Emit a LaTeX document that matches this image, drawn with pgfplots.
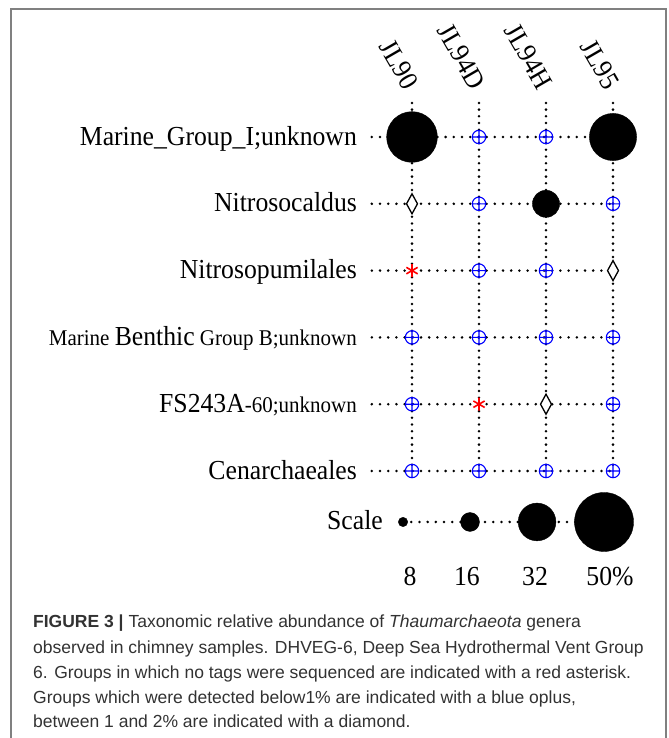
\documentclass[border=0pt]{standalone}
\usepackage{fontspec}
\setmainfont{Liberation Serif}
\newfontfamily\capfont{Liberation Sans}
\usepackage{graphicx}
\usepackage{pgfplots}
\usepackage{pgfplotstable}
\pgfplotsset{compat=1.18}

\definecolor{framegray}{RGB}{128,128,128}
\definecolor{captxt}{RGB}{50,50,50}
\definecolor{oplusblue}{RGB}{0,0,255}
\definecolor{astred}{RGB}{255,0,0}

\newcommand{\lgf}{\fontsize{25.7}{30}\selectfont}
\newcommand{\smf}{\fontsize{21}{25}\selectfont}
\newcommand{\vs}[1]{\scalebox{1}[1.07]{#1}}

% abundance bubbles: x = sample index, y = group index, v = percent
\pgfplotstableread{
x y v
0 0 43
3 0 40
2 1 23
}\bubbles
\pgfplotstableread{
x y v
-0.134 5.763 8
0.866 5.763 16
1.866 5.763 32
2.866 5.763 50
}\scalebubbles
\pgfplotstableread{
x y
1 0
2 0
1 1
3 1
1 2
2 2
0 3
1 3
2 3
3 3
0 4
3 4
0 5
1 5
2 5
3 5
}\oplusdata
\pgfplotstableread{
x y
0 1
3 2
2 4
}\diamonddata
\pgfplotstableread{
x y
0 2
1 4
}\asteriskdata

\begin{document}
\begin{tikzpicture}
\begin{axis}[
  scale only axis, width=668pt, height=738pt,
  xmin=-6.1493, xmax=3.8209, ymin=-2.0509, ymax=8.997,
  y dir=reverse, hide axis, clip=false,
  hdot/.style={black, line width=2.8pt, line cap=round, dash pattern=on 0pt off 8.2pt},
  vdot/.style={black, line width=2.8pt, line cap=round, dash pattern=on 0pt off 6.7pt},
  bubble/.style={scatter, only marks, mark=*,
    scatter/use mapped color={draw=black, fill=black},
    visualization depends on={0.59*\thisrow{v} \as \msize},
    scatter/@pre marker code/.append style={/tikz/mark size=\msize, /tikz/line width=0.3pt}},
]
% frame
\draw[framegray, line width=1.8pt] (axis cs:-5.985,8.997) -- (axis cs:-5.985,-1.916) -- (axis cs:3.791,-1.916) -- (axis cs:3.791,8.997);

% grid of dotted lines
\foreach \c in {0,1,2,3}{
  \edef\tmp{\noexpand\addplot[vdot] coordinates {(\c,-0.51) (\c,5)};}\tmp
}
\foreach \r in {0,1,2,3,4,5}{
  \edef\tmp{\noexpand\addplot[hdot] coordinates {(-0.6,\r) (3,\r)};}\tmp
}
\addplot[hdot] coordinates {(-0.134,5.763) (2.866,5.763)};

% markers
\addplot[only marks, mark=oplus, mark size=6.7pt, oplusblue, line width=1.1pt, mark options={fill=white}] table[x=x,y=y]{\oplusdata};
\addplot[only marks, mark=diamond*, mark size=10pt, black, line width=1.3pt, mark options={fill=white, xscale=0.73}] table[x=x,y=y]{\diamonddata};
\addplot[only marks, mark=asterisk, mark size=6.5pt, astred, line width=1.6pt] table[x=x,y=y]{\asteriskdata};
\addplot[bubble] table[x=x,y=y]{\bubbles};
\addplot[bubble] table[x=x,y=y]{\scalebubbles};

% column labels
\foreach \c/\t in {0/JL90,1/JL94D,2/JL94H,3/JL95}{
  \edef\tmp{\noexpand\node[rotate=-60, anchor=east, inner sep=0pt, font=\noexpand\lgf] at (axis cs:\c,-0.75) {\noexpand\vs{\t}};}\tmp
}

% row labels
\node[anchor=base east, inner sep=0pt, yshift=-8pt, font=\lgf] at (axis cs:-0.82,0) {\vs{Marine\_Group\_I;unknown}};
\node[anchor=base east, inner sep=0pt, yshift=-8pt, font=\lgf] at (axis cs:-0.82,1) {\vs{Nitrosocaldus}};
\node[anchor=base east, inner sep=0pt, yshift=-8pt, font=\lgf] at (axis cs:-0.82,2) {\vs{Nitrosopumilales}};
\node[anchor=base east, inner sep=0pt, yshift=-8pt] at (axis cs:-0.82,3) {\vs{{\smf Marine }{\lgf Benthic}{\smf\ Group B;unknown}}};
\node[anchor=base east, inner sep=0pt, yshift=-8pt] at (axis cs:-0.82,4) {\vs{{\lgf FS243A}{\smf -60;unknown}}};
\node[anchor=base east, inner sep=0pt, yshift=-8pt, font=\lgf] at (axis cs:-0.82,5) {\vs{Cenarchaeales}};
\node[anchor=base east, inner sep=0pt, yshift=-8pt, font=\lgf] at (axis cs:-0.433,5.763) {\vs{Scale}};

% scale numbers
\node[anchor=base, inner sep=0pt, font=\lgf] at (axis cs:-0.03,6.72) {\vs{8}};
\node[anchor=base, inner sep=0pt, font=\lgf] at (axis cs:0.82,6.72) {\vs{16}};
\node[anchor=base, inner sep=0pt, font=\lgf] at (axis cs:1.836,6.72) {\vs{32}};
\node[anchor=base, inner sep=0pt, font=\lgf] at (axis cs:2.955,6.72) {\vs{50\%}};

% caption
\begin{scope}[every node/.style={anchor=base west, inner sep=0pt, text=captxt, font=\capfont\fontsize{17.5}{25}\selectfont}]
\node at (axis cs:-5.657,7.350) {\textbf{FIGURE 3 |} Taxonomic relative abundance of \textit{Thaumarchaeota} genera};
\node at (axis cs:-5.657,7.725) {observed in chimney samples. DHVEG-6, Deep Sea Hydrothermal Vent Group};
\node at (axis cs:-5.657,8.099) {6. Groups in which no tags were sequenced are indicated with a red asterisk.};
\node at (axis cs:-5.657,8.473) {Groups which were detected below1\% are indicated with a blue oplus,};
\node at (axis cs:-5.657,8.847) {between 1 and 2\% are indicated with a diamond.};
\end{scope}
\end{axis}
\pgfresetboundingbox
\path (current axis.south west) rectangle (current axis.north east);
\end{tikzpicture}
\end{document}
